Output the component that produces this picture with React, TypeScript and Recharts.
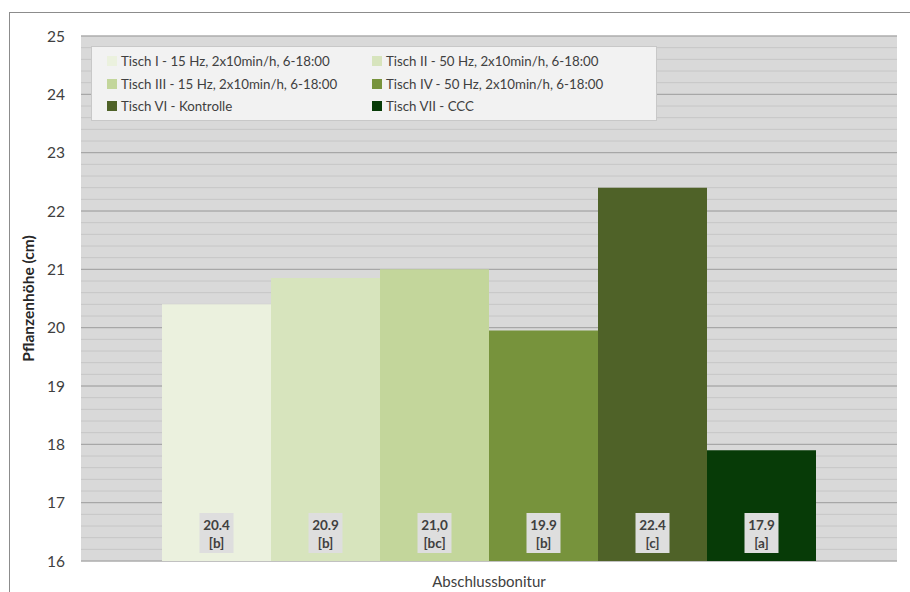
import { BarChart, Bar, XAxis, YAxis, CartesianGrid, Legend, LabelList, Label } from "recharts";

const categories = ["Abschlussbonitur"];
const seriesKeys = ["t1", "t2", "t3", "t4", "t6", "t7"];
const seriesNames = [
  "Tisch I - 15 Hz, 2x10min/h, 6-18:00",
  "Tisch II - 50 Hz, 2x10min/h, 6-18:00",
  "Tisch III - 15 Hz, 2x10min/h, 6-18:00",
  "Tisch IV - 50 Hz, 2x10min/h, 6-18:00",
  "Tisch VI - Kontrolle",
  "Tisch VII - CCC",
];
const heights = [20.4, 20.85, 21.0, 19.95, 22.4, 17.9];
const valueLabels = ["20.4", "20.9", "21,0", "19.9", "22.4", "17.9"];
const letterLabels = ["[b]", "[b]", "[bc]", "[b]", "[c]", "[a]"];
const colors = ["#EBF1DE", "#D7E4BD", "#C3D69B", "#77933C", "#4F6228", "#073B07"];
const yTicks = [16, 17, 18, 19, 20, 21, 22, 23, 24, 25];
const Y_MIN = 16;
const Y_MAX = 25;

// minor gridlines every 0.2 cm
const minorTicks: number[] = [];
for (let i = 0; i <= 45; i++) minorTicks.push(Math.round((Y_MIN + i * 0.2) * 10) / 10);

const row: Record<string, any> = { name: categories[0] };
seriesKeys.forEach((k, i) => (row[k] = heights[i]));
const data = [row];

const FONT = "Lato, 'Open Sans', sans-serif";

const renderLegend = (props: any) => {
  const items = props.payload || [];
  return (
    <div
      style={{
        background: "#f2f2f2",
        border: "1px solid #c8c8c8",
        boxSizing: "border-box",
        width: 566,
        height: 75,
        padding: "3px 0 0 15px",
        display: "grid",
        gridTemplateColumns: "265px 280px",
        gridAutoRows: "22.5px",
        fontFamily: FONT,
        fontSize: 13.3,
        color: "#404040",
      }}
    >
      {items.map((it: any) => (
        <div key={it.value} style={{ display: "flex", alignItems: "center", whiteSpace: "nowrap" }}>
          <span style={{ display: "inline-block", width: 10, height: 10, background: it.color, marginRight: 4 }} />
          {it.value}
        </div>
      ))}
    </div>
  );
};

const makeLabel = (i: number) => (props: any) => {
  const { x, y, width, height } = props;
  const cx = x + width / 2;
  const bottom = y + height;
  return (
    <g>
      <rect x={cx - 17} y={bottom - 48} width={34} height={40} fill="#dedede" />
      <text x={cx} y={bottom - 31} textAnchor="middle" fontFamily={FONT} fontSize={13.5} fontWeight="bold" fill="#404040">
        {valueLabels[i]}
      </text>
      <text x={cx} y={bottom - 13} textAnchor="middle" fontFamily={FONT} fontSize={13.5} fontWeight="bold" fill="#404040">
        {letterLabels[i]}
      </text>
    </g>
  );
};

// pixel rows for the minor gridlines, from the plot offset
const minorGen = (p: any) => {
  const off = p && p.offset ? p.offset : { top: 36, height: 525 };
  return minorTicks.map((v) => off.top + ((Y_MAX - v) / (Y_MAX - Y_MIN)) * off.height);
};

const App = () => {
  return (
    <div style={{ position: "absolute", left: 0, top: 0, width: 910, height: 592, overflow: "hidden", background: "#fff" }}>
      <div
        style={{
          position: "absolute",
          left: 9,
          top: 12,
          width: 920,
          height: 600,
          border: "1px solid #8c8c8c",
          pointerEvents: "none",
        }}
      />
      <BarChart
        width={910}
        height={592}
        data={data}
        margin={{ top: 36, right: 13, bottom: 0, left: 0 }}
        barGap={0}
        barCategoryGap={81}
      >
        <CartesianGrid
          vertical={false}
          horizontalCoordinatesGenerator={minorGen}
          stroke="#c6c6c6"
          fill="#d9d9d9"
        />
        <CartesianGrid vertical={false} stroke="#a0a0a0" />
        <XAxis
          dataKey="name"
          height={31}
          axisLine={false}
          tickLine={false}
          tickSize={0}
          tickMargin={15}
          tick={{ fontFamily: FONT, fontSize: 15, fill: "#404040" }}
        />
        <YAxis
          width={81}
          domain={[Y_MIN, Y_MAX]}
          ticks={yTicks}
          axisLine={false}
          tickLine={false}
          tickSize={0}
          tickMargin={16}
          tick={{ fontFamily: FONT, fontSize: 15.5, fill: "#404040" }}
        >
          <Label
            content={(p: any) => {
              const vb = p.viewBox;
              const cx = vb.x + 28;
              const cy = vb.y + vb.height / 2;
              return (
                <text
                  x={cx}
                  y={cy}
                  transform={`rotate(-90, ${cx}, ${cy})`}
                  textAnchor="middle"
                  dominantBaseline="central"
                  fontFamily={FONT}
                  fontSize={15.5}
                  fontWeight="bold"
                  fill="#262626"
                >
                  Pflanzenhöhe (cm)
                </text>
              );
            }}
          />
        </YAxis>
        <Legend
          layout="horizontal"
          verticalAlign="middle"
          align="center"
          content={renderLegend}
          wrapperStyle={{ left: 91, top: 46, width: 566, height: 75 }}
        />
        {seriesKeys.map((k, i) => (
          <Bar key={k} dataKey={k} name={seriesNames[i]} fill={colors[i]} isAnimationActive={false}>
            <LabelList dataKey={k} content={makeLabel(i)} />
          </Bar>
        ))}
      </BarChart>
    </div>
  );
};

export default App;
